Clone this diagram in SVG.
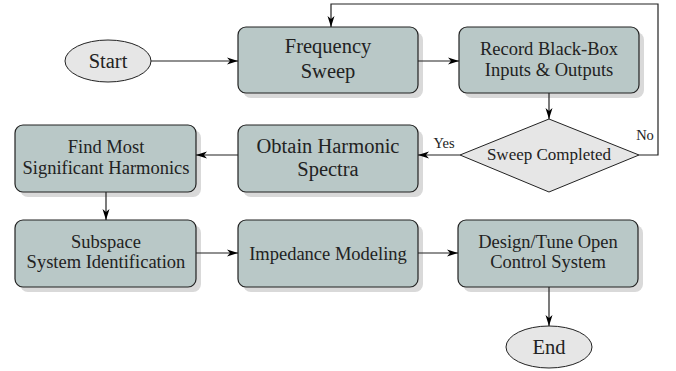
<svg xmlns="http://www.w3.org/2000/svg" width="676" height="371" viewBox="0 0 676 371">
<defs>
<marker id="ah" markerWidth="12" markerHeight="8" refX="11" refY="4" orient="auto" markerUnits="userSpaceOnUse">
<path d="M0,0.5 L11,4 L0,7.5 L3,4 Z" fill="#000"/>
</marker>
</defs>
<style>
text{font-family:"Liberation Serif","Times New Roman",serif;fill:#222;text-anchor:middle}
.lg{font-size:20.5px}
.sm{font-size:18.5px}
.xs{font-size:17px}
.lb{font-size:14.5px}
.box{fill:#b9c8c7;stroke:#222;stroke-width:1.2}
.sh{fill:#d9d9d9}
.term{fill:#e6e6e6;stroke:#222;stroke-width:1}
.c{fill:none;stroke:#222;stroke-width:1.2;marker-end:url(#ah)}
</style>
<rect width="676" height="371" fill="#fff"/>
<g id="start"><ellipse class="term" cx="108" cy="61" rx="43" ry="21"/><text class="lg" x="108" y="68">Start</text></g>
<g id="freq"><rect class="sh" x="243" y="32" width="180" height="66" rx="8"/><rect class="box" x="238" y="27" width="180" height="66" rx="8"/><text class="lg" x="328" y="53">Frequency</text><text class="lg" x="328" y="78">Sweep</text></g>
<g id="record"><rect class="sh" x="464" y="32" width="180" height="66" rx="8"/><rect class="box" x="459" y="27" width="180" height="66" rx="8"/><text class="sm" x="549" y="55">Record Black-Box</text><text class="sm" x="549" y="76">Inputs &amp; Outputs</text></g>
<g id="sweep"><polygon class="term" points="549,119 639,155 549,192 460,155"/><text class="xs" x="549" y="160">Sweep Completed</text></g>
<g id="obtain"><rect class="sh" x="243" y="130" width="180" height="67" rx="8"/><rect class="box" x="238" y="125" width="180" height="67" rx="8"/><text class="lg" x="328" y="153">Obtain Harmonic</text><text class="lg" x="328" y="176">Spectra</text></g>
<g id="find"><rect class="sh" x="20" y="130" width="181" height="67" rx="8"/><rect class="box" x="15" y="125" width="181" height="67" rx="8"/><text class="sm" x="106" y="153">Find Most</text><text class="sm" x="106" y="174">Significant Harmonics</text></g>
<g id="subspace"><rect class="sh" x="20" y="225" width="181" height="67" rx="8"/><rect class="box" x="15" y="220" width="181" height="67" rx="8"/><text class="sm" x="106" y="248">Subspace</text><text class="sm" x="106" y="268">System Identification</text></g>
<g id="impedance"><rect class="sh" x="243" y="225" width="180" height="67" rx="8"/><rect class="box" x="238" y="220" width="180" height="67" rx="8"/><text class="sm" x="328" y="260">Impedance Modeling</text></g>
<g id="design"><rect class="sh" x="463" y="225" width="180" height="67" rx="8"/><rect class="box" x="458" y="220" width="180" height="67" rx="8"/><text class="sm" x="548" y="248">Design/Tune Open</text><text class="sm" x="548" y="268">Control System</text></g>
<g id="end"><ellipse class="term" cx="549" cy="347" rx="43" ry="21"/><text class="lg" x="549" y="354">End</text></g>
<g id="connectors">
<path class="c" d="M151,61 H238"/>
<path class="c" d="M418,61 H459"/>
<path class="c" d="M549,93 V119"/>
<path class="c" d="M639,155 H658 V4 H331 V27"/>
<path class="c" d="M460,155 H418"/>
<path class="c" d="M238,155 H196"/>
<path class="c" d="M106,192 V220"/>
<path class="c" d="M196,253 H238"/>
<path class="c" d="M418,253 H458"/>
<path class="c" d="M549,287 V326"/>
<text class="lb" x="444" y="148">Yes</text>
<text class="lb" x="645" y="140">No</text>
</g>
</svg>
